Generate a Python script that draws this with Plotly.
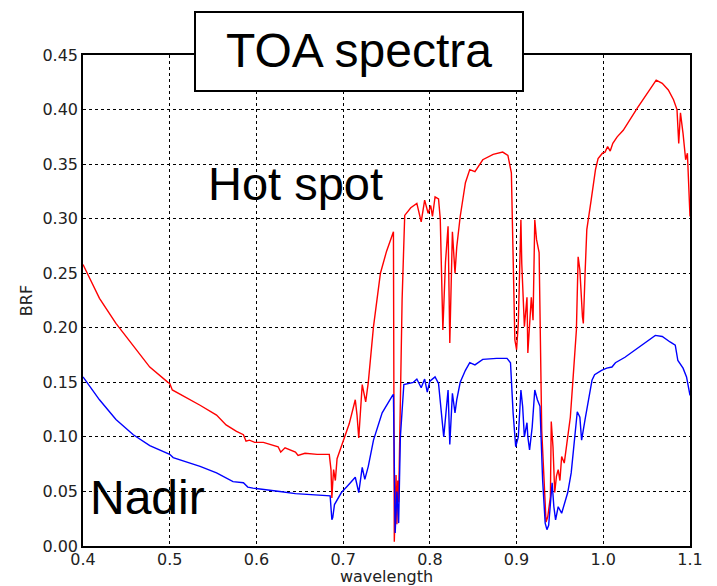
import plotly.graph_objects as go

# ---------------- data ----------------
wl_hot = [0.400, 0.419, 0.438, 0.458, 0.477, 0.498, 0.500, 0.503, 0.515, 0.535,
          0.554, 0.565, 0.577, 0.585, 0.588, 0.592, 0.598, 0.608, 0.625, 0.628,
          0.633, 0.645, 0.648, 0.656, 0.670, 0.684, 0.686, 0.687, 0.688, 0.689,
          0.691, 0.693, 0.700, 0.707, 0.714, 0.716, 0.718, 0.722, 0.726, 0.729,
          0.735, 0.743, 0.750, 0.758, 0.759, 0.760, 0.761, 0.762, 0.763, 0.764,
          0.766, 0.768, 0.771, 0.778, 0.785, 0.790, 0.794, 0.798, 0.801, 0.803,
          0.806, 0.810, 0.812, 0.815, 0.818, 0.821, 0.823, 0.826, 0.829, 0.831,
          0.835, 0.841, 0.846, 0.852, 0.861, 0.873, 0.884, 0.890, 0.894, 0.896,
          0.898, 0.900, 0.902, 0.905, 0.906, 0.909, 0.912, 0.913, 0.917, 0.919,
          0.921, 0.923, 0.926, 0.929, 0.933, 0.934, 0.936, 0.939, 0.940, 0.942,
          0.944, 0.946, 0.948, 0.950, 0.952, 0.955, 0.958, 0.962, 0.965, 0.969,
          0.971, 0.973, 0.976, 0.977, 0.979, 0.981, 0.986, 0.991, 0.994, 0.999,
          1.002, 1.005, 1.008, 1.011, 1.016, 1.023, 1.039, 1.061, 1.068, 1.075,
          1.081, 1.085, 1.087, 1.089, 1.092, 1.095, 1.097, 1.098, 1.100]
brf_hot = [0.258, 0.227, 0.204, 0.183, 0.164, 0.150, 0.149, 0.143, 0.138, 0.129,
           0.120, 0.111, 0.105, 0.102, 0.096, 0.097, 0.095, 0.095, 0.091, 0.086,
           0.090, 0.086, 0.083, 0.085, 0.084, 0.084, 0.070, 0.044, 0.058, 0.070,
           0.060, 0.080, 0.096, 0.112, 0.134, 0.120, 0.099, 0.148, 0.132, 0.150,
           0.201, 0.250, 0.270, 0.288, 0.004, 0.030, 0.065, 0.020, 0.060, 0.040,
           0.150, 0.226, 0.303, 0.310, 0.314, 0.297, 0.317, 0.305, 0.312, 0.302,
           0.320, 0.318, 0.300, 0.198, 0.260, 0.293, 0.186, 0.288, 0.250, 0.274,
           0.302, 0.333, 0.345, 0.343, 0.354, 0.359, 0.361, 0.358, 0.342, 0.250,
           0.189, 0.180, 0.204, 0.299, 0.259, 0.201, 0.228, 0.177, 0.228, 0.207,
           0.299, 0.281, 0.269, 0.106, 0.030, 0.022, 0.027, 0.045, 0.114, 0.091,
           0.049, 0.064, 0.070, 0.060, 0.082, 0.076, 0.094, 0.118, 0.152, 0.198,
           0.265, 0.253, 0.210, 0.204, 0.250, 0.290, 0.317, 0.345, 0.355, 0.360,
           0.361, 0.366, 0.362, 0.369, 0.375, 0.381, 0.401, 0.427, 0.424, 0.418,
           0.409, 0.400, 0.369, 0.397, 0.378, 0.354, 0.360, 0.342, 0.302]

wl_nadir = [0.400, 0.419, 0.438, 0.458, 0.477, 0.500, 0.504, 0.535, 0.554, 0.573,
            0.585, 0.590, 0.596, 0.608, 0.627, 0.645, 0.685, 0.687, 0.688, 0.690,
            0.698, 0.705, 0.714, 0.718, 0.722, 0.725, 0.729, 0.735, 0.745, 0.757,
            0.758, 0.760, 0.762, 0.764, 0.766, 0.770, 0.781, 0.785, 0.790, 0.794,
            0.797, 0.800, 0.806, 0.810, 0.816, 0.821, 0.823, 0.826, 0.829, 0.831,
            0.835, 0.841, 0.846, 0.852, 0.861, 0.877, 0.889, 0.893, 0.896, 0.899,
            0.902, 0.905, 0.907, 0.909, 0.912, 0.913, 0.915, 0.918, 0.921, 0.924,
            0.927, 0.930, 0.933, 0.935, 0.937, 0.941, 0.943, 0.945, 0.948, 0.952,
            0.956, 0.959, 0.963, 0.967, 0.970, 0.973, 0.975, 0.979, 0.983, 0.987,
            0.990, 0.998, 1.004, 1.010, 1.014, 1.025, 1.060, 1.068, 1.077, 1.083,
            1.086, 1.092, 1.096, 1.100]
brf_nadir = [0.155, 0.134, 0.116, 0.102, 0.092, 0.084, 0.081, 0.073, 0.067, 0.059,
             0.058, 0.054, 0.053, 0.052, 0.050, 0.048, 0.046, 0.024, 0.026, 0.038,
             0.049, 0.055, 0.063, 0.049, 0.072, 0.061, 0.073, 0.097, 0.122, 0.138,
             0.139, 0.012, 0.050, 0.021, 0.100, 0.148, 0.150, 0.153, 0.145, 0.153,
             0.141, 0.151, 0.155, 0.149, 0.100, 0.143, 0.093, 0.140, 0.122, 0.134,
             0.150, 0.161, 0.168, 0.166, 0.171, 0.172, 0.172, 0.168, 0.122, 0.091,
             0.100, 0.143, 0.128, 0.100, 0.113, 0.100, 0.088, 0.109, 0.143, 0.134,
             0.128, 0.061, 0.021, 0.015, 0.019, 0.058, 0.036, 0.024, 0.036, 0.030,
             0.042, 0.049, 0.067, 0.100, 0.123, 0.118, 0.097, 0.116, 0.134, 0.152,
             0.157, 0.161, 0.163, 0.164, 0.168, 0.173, 0.193, 0.192, 0.187, 0.184,
             0.170, 0.163, 0.155, 0.138]

x_ticks = [0.4, 0.5, 0.6, 0.7, 0.8, 0.9, 1.0, 1.1]
y_ticks = [0.00, 0.05, 0.10, 0.15, 0.20, 0.25, 0.30, 0.35, 0.40, 0.45]

title_text = "TOA spectra"
label_hot = "Hot spot"
label_nadir = "Nadir"

# ---------------- layout geometry (pixels -> paper) ----------------
W, H = 717, 586
L, R, T, B = 83, 690, 55, 546


def px(x):
    return (x - L) / (R - L)


def py(y):
    return (B - y) / (B - T)


fig = go.Figure()
fig.add_trace(go.Scatter(x=wl_hot, y=brf_hot, mode="lines",
                         line=dict(color="#ff0000", width=1.4), showlegend=False))
fig.add_trace(go.Scatter(x=wl_nadir, y=brf_nadir, mode="lines",
                         line=dict(color="#0000ff", width=1.4), showlegend=False))

tickfont = dict(family="DejaVu Sans", size=16, color="#222222")
fig.update_xaxes(range=[0.4, 1.1], tickvals=x_ticks, ticktext=[f"{v:.1f}" for v in x_ticks],
                 showgrid=True, gridcolor="black", gridwidth=1, griddash="dot",
                 showline=True, linecolor="black", linewidth=1.5, mirror=True,
                 zeroline=False, ticks="", tickfont=tickfont, automargin=False,
                 ticklabelstandoff=-2,
                 title=dict(text="wavelength", font=tickfont, standoff=6))
fig.update_yaxes(range=[0, 0.45], tickvals=y_ticks, ticktext=[f"{v:.2f}" for v in y_ticks],
                 showgrid=True, gridcolor="black", gridwidth=1, griddash="dot",
                 showline=True, linecolor="black", linewidth=1.5, mirror=True,
                 zeroline=False, ticks="", tickfont=tickfont, automargin=False,
                 title=dict(text="BRF", font=tickfont, standoff=6))

shapes = [
    # white backgrounds behind labels (between grid and traces)
    dict(type="rect", xref="paper", yref="paper", x0=px(195), x1=px(395), y0=py(232), y1=py(153),
         fillcolor="white", line=dict(width=0), layer="between"),
    dict(type="rect", xref="paper", yref="paper", x0=px(86), x1=px(215), y0=py(544), y1=py(470),
         fillcolor="white", line=dict(width=0), layer="between"),
    # title box
    dict(type="rect", xref="paper", yref="paper", x0=px(195), x1=px(523), y0=py(91), y1=py(12),
         fillcolor="white", line=dict(color="black", width=2), layer="above"),
]

bigfont = dict(family="Liberation Sans, Arial, sans-serif", size=48, color="black")
annotations = [
    dict(text=title_text, xref="paper", yref="paper", x=px(358.5), y=py(50.5),
         xanchor="center", yanchor="middle", showarrow=False, font=bigfont),
    dict(text=label_hot, xref="paper", yref="paper", x=px(295), y=py(183.5),
         xanchor="center", yanchor="middle", showarrow=False, font=dict(bigfont, size=47)),
    dict(text=label_nadir, xref="paper", yref="paper", x=px(147.5), y=py(497.5),
         xanchor="center", yanchor="middle", showarrow=False, font=bigfont),
]

fig.update_layout(width=W, height=H, margin=dict(l=L, r=W - R, t=T, b=H - B),
                  paper_bgcolor="white", plot_bgcolor="white",
                  shapes=shapes, annotations=annotations)

fig.write_html("out.html", config={"displayModeBar": False},
               post_script="document.body.style.margin='0';document.body.style.padding='0';"
                           "document.body.style.overflow='hidden';")
